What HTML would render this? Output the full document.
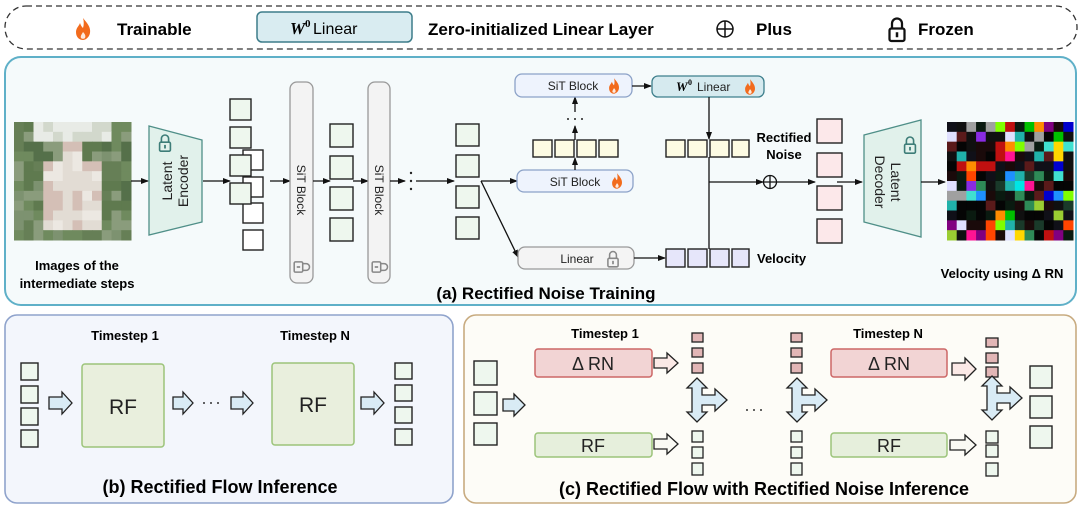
<!DOCTYPE html>
<html><head><meta charset="utf-8"><style>
html,body{margin:0;padding:0;background:#fff;}
svg{display:block;font-family:"Liberation Sans",Arial,sans-serif;}
</style></head><body>
<svg id="s" width="1082" height="507" viewBox="0 0 1082 507" xmlns="http://www.w3.org/2000/svg">
<defs>
<marker id="ah" markerWidth="8" markerHeight="8" refX="7" refY="4" orient="auto" markerUnits="userSpaceOnUse"><path d="M0,1 L8,4 L0,7 Z" fill="#111"/></marker>
<g id="flame"><path d="M0,-11 C4,-6 8,-2 7,4 C6,9 2,11 0,11 C-3,11 -7,9 -7,3 C-7,-1 -4,-3 -3,-6 C-2,-3 -1,-2 0,-1 C1,-4 1,-8 0,-11 Z" fill="#f26b1d"/><path d="M0,3 C2,5 3,7 2,9 C1,10 -1,10 -2,9 C-3,7 -1,5 0,3 Z" fill="#fff" opacity="0.85"/></g>
<g id="lock"><path d="M-4,-2 V-6 A4,4 0 0 1 4,-6 V-2" fill="none" stroke-width="1.8"/><rect x="-6" y="-2" width="12" height="10" rx="1.5" fill="none" stroke-width="1.8"/><rect x="-1" y="1" width="2" height="4" stroke="none"/></g>
</defs>

<!-- Legend -->
<rect x="5" y="6" width="1072" height="43" rx="21" fill="#fff" stroke="#333" stroke-width="1.3" stroke-dasharray="6,4"/>
<use href="#flame" transform="translate(83,29) scale(1)"/>
<text x="117" y="35" font-size="17" font-weight="bold">Trainable</text>
<rect x="257" y="12" width="155" height="30" rx="5" fill="#d9ecf1" stroke="#3d7d8a" stroke-width="1.5"/>
<text x="290" y="34" font-size="17" font-family="Liberation Serif,serif" font-style="italic" font-weight="bold">W</text>
<text x="305" y="27" font-size="11" font-family="Liberation Serif,serif" font-weight="bold">0</text>
<text x="313" y="34" font-size="16">Linear</text>
<text x="428" y="35" font-size="17" font-weight="bold">Zero-initialized Linear Layer</text>
<circle cx="725" cy="29" r="8" fill="none" stroke="#111" stroke-width="1.5"/><path d="M717,29 H733 M725,21 V37" stroke="#111" stroke-width="1.5"/>
<text x="756" y="35" font-size="17" font-weight="bold">Plus</text>
<g transform="translate(897,31) scale(1.25)" stroke="#111" fill="#111"><use href="#lock"/></g>
<text x="918" y="35" font-size="17" font-weight="bold">Frozen</text>

<!-- Panel a -->
<rect x="5" y="57" width="1071" height="248" rx="16" fill="#f5fafb" stroke="#5fb0c8" stroke-width="2"/>
<g id="img"><rect x="14" y="122" width="117" height="118" fill="#7d8f6c"/></g>
<text x="77" y="270" font-size="13" font-weight="bold" text-anchor="middle">Images of the</text>
<text x="77" y="288" font-size="13" font-weight="bold" text-anchor="middle">intermediate steps</text>
<line x1="131" y1="181" x2="148" y2="181" stroke="#111" stroke-width="1.3" marker-end="url(#ah)"/>
<path d="M149,126 L202,140 L202,222 L149,235 Z" fill="#e1f1eb" stroke="#4f8f88" stroke-width="1.3"/>
<g transform="translate(165,144) scale(0.9)" stroke="#3d7d78" fill="#3d7d78"><use href="#lock"/></g>
<text transform="translate(172,181) rotate(-90)" font-size="14" text-anchor="middle" fill="#222"><tspan x="0" y="0">Latent</tspan><tspan x="0" y="16">Encoder</tspan></text>
<line x1="203" y1="181" x2="230" y2="181" stroke="#111" stroke-width="1.3" marker-end="url(#ah)"/>
<g fill="#fff" stroke="#222" stroke-width="1.4">
<rect x="243" y="150" width="20" height="20"/><rect x="243" y="177" width="20" height="20"/><rect x="243" y="203" width="20" height="20"/><rect x="243" y="230" width="20" height="20"/>
</g>
<g fill="#eef7ee" stroke="#222" stroke-width="1.4">
<rect x="230" y="99" width="21" height="21"/><rect x="230" y="127" width="21" height="21"/><rect x="230" y="155" width="21" height="21"/><rect x="230" y="183" width="21" height="21"/>
</g>
<line x1="270" y1="181" x2="290" y2="181" stroke="#111" stroke-width="1.3" marker-end="url(#ah)"/>
<rect x="290" y="82" width="23" height="201" rx="7" fill="#f3f3f3" stroke="#999" stroke-width="1.3"/>
<text transform="translate(297,190) rotate(90)" font-size="12" text-anchor="middle" fill="#222">SiT Block</text>
<g transform="translate(301,267) rotate(90) scale(0.85)" stroke="#888" fill="#888"><use href="#lock"/></g>
<line x1="313" y1="181" x2="330" y2="181" stroke="#111" stroke-width="1.3" marker-end="url(#ah)"/>
<g fill="#eef7ee" stroke="#222" stroke-width="1.4">
<rect x="330" y="124" width="23" height="23"/><rect x="330" y="156" width="23" height="23"/><rect x="330" y="187" width="23" height="23"/><rect x="330" y="218" width="23" height="23"/>
</g>
<line x1="353" y1="181" x2="368" y2="181" stroke="#111" stroke-width="1.3" marker-end="url(#ah)"/>
<rect x="368" y="82" width="22" height="201" rx="7" fill="#f3f3f3" stroke="#999" stroke-width="1.3"/>
<text transform="translate(375,190) rotate(90)" font-size="12" text-anchor="middle" fill="#222">SiT Block</text>
<g transform="translate(379,267) rotate(90) scale(0.85)" stroke="#888" fill="#888"><use href="#lock"/></g>
<line x1="390" y1="181" x2="405" y2="181" stroke="#111" stroke-width="1.3" marker-end="url(#ah)"/>
<g fill="#222"><circle cx="411" cy="173" r="1.2"/><circle cx="411" cy="181" r="1.2"/><circle cx="411" cy="189" r="1.2"/></g>
<line x1="416" y1="181" x2="454" y2="181" stroke="#111" stroke-width="1.3" marker-end="url(#ah)"/>
<g fill="#eef7ee" stroke="#222" stroke-width="1.4">
<rect x="456" y="124" width="23" height="22"/><rect x="456" y="155" width="23" height="22"/><rect x="456" y="186" width="23" height="22"/><rect x="456" y="217" width="23" height="22"/>
</g>
<line x1="481" y1="181" x2="517" y2="181" stroke="#111" stroke-width="1.3" marker-end="url(#ah)"/>
<line x1="481" y1="181" x2="518" y2="257" stroke="#111" stroke-width="1.3" marker-end="url(#ah)"/>
<rect x="517" y="170" width="116" height="22" rx="7" fill="#eef3fd" stroke="#8ca2c8" stroke-width="1.3"/>
<text x="575" y="186" font-size="12" text-anchor="middle" fill="#222">SiT Block</text>
<use href="#flame" transform="translate(617,181) scale(0.7)"/>
<g fill="#fdfbe3" stroke="#222" stroke-width="1.4">
<rect x="533" y="140" width="19" height="17"/><rect x="555" y="140" width="19" height="17"/><rect x="577" y="140" width="19" height="17"/><rect x="599" y="140" width="19" height="17"/>
</g>
<line x1="575" y1="170" x2="575" y2="158" stroke="#111" stroke-width="1.3" marker-end="url(#ah)"/>
<line x1="575" y1="140" x2="575" y2="126" stroke="#111" stroke-width="1.3" marker-end="url(#ah)"/>
<g fill="#222"><circle cx="568" cy="119" r="1"/><circle cx="575" cy="119" r="1"/><circle cx="582" cy="119" r="1"/></g>
<line x1="575" y1="112" x2="575" y2="97" stroke="#111" stroke-width="1.3" marker-end="url(#ah)"/>
<rect x="515" y="74" width="117" height="23" rx="7" fill="#eef3fd" stroke="#8ca2c8" stroke-width="1.3"/>
<text x="573" y="90" font-size="12" text-anchor="middle" fill="#222">SiT Block</text>
<use href="#flame" transform="translate(614,86) scale(0.7)"/>
<line x1="632" y1="86" x2="651" y2="86" stroke="#111" stroke-width="1.3" marker-end="url(#ah)"/>
<rect x="652" y="76" width="112" height="21" rx="6" fill="#d6eaef" stroke="#3e7f8c" stroke-width="1.3"/>
<text x="676" y="91" font-size="13" font-family="Liberation Serif,serif" font-style="italic" font-weight="bold">W</text>
<text x="688" y="85" font-size="8" font-family="Liberation Serif,serif" font-weight="bold">0</text>
<text x="697" y="91" font-size="12" fill="#222">Linear</text>
<use href="#flame" transform="translate(750,87) scale(0.7)"/>
<g fill="#fdfbe3" stroke="#222" stroke-width="1.4">
<rect x="666" y="140" width="19" height="17"/><rect x="688" y="140" width="19" height="17"/><rect x="710" y="140" width="19" height="17"/><rect x="732" y="140" width="17" height="17"/>
</g>
<line x1="709" y1="97" x2="709" y2="139" stroke="#111" stroke-width="1.3" marker-end="url(#ah)"/>
<line x1="709" y1="157" x2="709" y2="249" stroke="#111" stroke-width="1.3"/>
<line x1="709" y1="182" x2="763" y2="182" stroke="#111" stroke-width="1.3" marker-end="url(#ah)"/>
<circle cx="770" cy="182" r="6.5" fill="none" stroke="#111" stroke-width="1.3"/><path d="M763.5,182 H776.5 M770,175.5 V188.5" stroke="#111" stroke-width="1.3"/>
<line x1="777" y1="182" x2="815" y2="182" stroke="#111" stroke-width="1.3" marker-end="url(#ah)"/>
<text x="784" y="142" font-size="13" font-weight="bold" text-anchor="middle">Rectified</text>
<text x="784" y="159" font-size="13" font-weight="bold" text-anchor="middle">Noise</text>
<g fill="#fce8ea" stroke="#222" stroke-width="1.4">
<rect x="817" y="119" width="25" height="24"/><rect x="817" y="153" width="25" height="24"/><rect x="817" y="186" width="25" height="24"/><rect x="817" y="219" width="25" height="24"/>
</g>
<line x1="837" y1="182" x2="862" y2="182" stroke="#111" stroke-width="1.3" marker-end="url(#ah)"/>
<path d="M864,135 L921,120 L921,237 L864,222 Z" fill="#e1f1eb" stroke="#4f8f88" stroke-width="1.3"/>
<g transform="translate(910,146) scale(0.9)" stroke="#3d7d78" fill="#3d7d78"><use href="#lock"/></g>
<text transform="translate(891,182) rotate(90)" font-size="14" text-anchor="middle" fill="#222"><tspan x="0" y="0">Latent</tspan><tspan x="0" y="16">Decoder</tspan></text>
<line x1="921" y1="182" x2="945" y2="182" stroke="#111" stroke-width="1.3" marker-end="url(#ah)"/>
<g id="noise"><rect x="947" y="122" width="126" height="118" fill="#1a1a1a"/></g>
<text x="1002" y="278" font-size="13" font-weight="bold" text-anchor="middle">Velocity using  Δ RN</text>
<rect x="518" y="247" width="116" height="22" rx="7" fill="#f4f4f4" stroke="#999" stroke-width="1.3"/>
<text x="577" y="263" font-size="12" text-anchor="middle" fill="#222">Linear</text>
<g transform="translate(613,260) scale(0.85)" stroke="#888" fill="#888"><use href="#lock"/></g>
<line x1="634" y1="258" x2="665" y2="258" stroke="#111" stroke-width="1.3" marker-end="url(#ah)"/>
<g fill="#e6e6fa" stroke="#222" stroke-width="1.4">
<rect x="666" y="249" width="19" height="18"/><rect x="688" y="249" width="19" height="18"/><rect x="710" y="249" width="19" height="18"/><rect x="732" y="249" width="17" height="18"/>
</g>
<text x="757" y="263" font-size="13" font-weight="bold">Velocity</text>
<text x="546" y="299" font-size="17" font-weight="bold" text-anchor="middle">(a) Rectified Noise Training</text>

<!-- Panel b -->
<rect x="5" y="315" width="448" height="188" rx="12" fill="#f3f6fc" stroke="#8fa3cc" stroke-width="1.6"/>
<text x="125" y="340" font-size="13" font-weight="bold" text-anchor="middle">Timestep 1</text>
<text x="315" y="340" font-size="13" font-weight="bold" text-anchor="middle">Timestep N</text>
<g fill="#eef7ee" stroke="#222" stroke-width="1.4">
<rect x="21" y="363" width="17" height="17"/><rect x="21" y="386" width="17" height="17"/><rect x="21" y="408" width="17" height="17"/><rect x="21" y="430" width="17" height="17"/>
<rect x="395" y="363" width="17" height="16"/><rect x="395" y="385" width="17" height="16"/><rect x="395" y="407" width="17" height="16"/><rect x="395" y="429" width="17" height="16"/>
</g>
<g fill="#d9ebf5" stroke="#222" stroke-width="1.3">
<path d="M49,397 H62 V392 L72,403 L62,414 V409 H49 Z"/>
<path d="M173,397 H183 V392 L193,403 L183,414 V409 H173 Z"/>
<path d="M231,397 H243 V392 L253,403 L243,414 V409 H231 Z"/>
<path d="M361,397 H374 V392 L384,403 L374,414 V409 H361 Z"/>
</g>
<rect x="82" y="364" width="82" height="83" rx="3" fill="#e9efdd" stroke="#9cc47a" stroke-width="1.5"/>
<text x="123" y="414" font-size="21" text-anchor="middle" fill="#222">RF</text>
<rect x="272" y="363" width="82" height="82" rx="3" fill="#e9efdd" stroke="#9cc47a" stroke-width="1.5"/>
<text x="313" y="412" font-size="21" text-anchor="middle" fill="#222">RF</text>
<g fill="#333"><circle cx="204" cy="403" r="1"/><circle cx="211" cy="403" r="1"/><circle cx="218" cy="403" r="1"/></g>
<text x="220" y="493" font-size="18" font-weight="bold" text-anchor="middle">(b) Rectified Flow Inference</text>

<!-- Panel c -->
<rect x="464" y="315" width="612" height="188" rx="12" fill="#fdfcf7" stroke="#c8ab80" stroke-width="1.6"/>
<text x="605" y="338" font-size="13" font-weight="bold" text-anchor="middle">Timestep 1</text>
<text x="888" y="338" font-size="13" font-weight="bold" text-anchor="middle">Timestep N</text>
<g fill="#eef7ee" stroke="#222" stroke-width="1.4">
<rect x="474" y="361" width="23" height="24"/><rect x="474" y="392" width="23" height="23"/><rect x="474" y="423" width="23" height="22"/>
<rect x="1030" y="366" width="22" height="22"/><rect x="1030" y="396" width="22" height="22"/><rect x="1030" y="426" width="22" height="22"/>
</g>
<path d="M503,399 H514 V394 L525,405 L514,416 V411 H503 Z" fill="#d9ebf5" stroke="#222" stroke-width="1.3"/>
<rect x="535" y="349" width="117" height="28" rx="3" fill="#f2d4d4" stroke="#cc6666" stroke-width="1.5"/>
<text x="593" y="370" font-size="18" text-anchor="middle" fill="#222">Δ RN</text>
<rect x="831" y="349" width="116" height="28" rx="3" fill="#f2d4d4" stroke="#cc6666" stroke-width="1.5"/>
<text x="889" y="370" font-size="18" text-anchor="middle" fill="#222">Δ RN</text>
<rect x="535" y="433" width="117" height="24" rx="3" fill="#e6efdc" stroke="#9cc47a" stroke-width="1.5"/>
<text x="593" y="452" font-size="18" text-anchor="middle" fill="#222">RF</text>
<rect x="831" y="433" width="116" height="24" rx="3" fill="#e6efdc" stroke="#9cc47a" stroke-width="1.5"/>
<text x="889" y="452" font-size="18" text-anchor="middle" fill="#222">RF</text>
<g fill="#fbe9e6" stroke="#222" stroke-width="1.3">
<path d="M654,358 H667 V353 L678,363 L667,373 V368 H654 Z"/>
<path d="M952,363 H965 V358 L976,369 L965,380 V375 H952 Z"/>
</g>
<g fill="#fafaf4" stroke="#222" stroke-width="1.3">
<path d="M654,439 H667 V434 L678,444 L667,454 V449 H654 Z"/>
<path d="M950,440 H965 V435 L976,445 L965,455 V450 H950 Z"/>
</g>
<g fill="#e2b6b6" stroke="#222" stroke-width="1.3">
<rect x="692" y="333" width="11" height="9"/><rect x="692" y="348" width="11" height="9"/><rect x="692" y="363" width="11" height="10"/>
<rect x="791" y="333" width="11" height="9"/><rect x="791" y="348" width="11" height="9"/><rect x="791" y="363" width="11" height="10"/>
<rect x="986" y="338" width="12" height="9"/><rect x="986" y="353" width="12" height="10"/><rect x="986" y="367" width="12" height="10"/>
</g>
<g fill="#eef7ee" stroke="#222" stroke-width="1.3">
<rect x="692" y="431" width="11" height="11"/><rect x="692" y="447" width="11" height="11"/><rect x="692" y="463" width="11" height="12"/>
<rect x="791" y="431" width="11" height="11"/><rect x="791" y="447" width="11" height="11"/><rect x="791" y="463" width="11" height="12"/>
<rect x="986" y="431" width="12" height="12"/><rect x="986" y="445" width="12" height="12"/><rect x="986" y="463" width="12" height="13"/>
</g>
<g fill="#d9ebf5" stroke="#222" stroke-width="1.3">
<path transform="translate(697,400)" d="M0,-22 L10,-12 L5,-12 L5,-5 L18,-5 L18,-11 L30,0 L18,11 L18,5 L5,5 L5,12 L10,12 L0,22 L-10,12 L-5,12 L-5,-12 L-10,-12 Z"/>
<path transform="translate(797,400)" d="M0,-22 L10,-12 L5,-12 L5,-5 L18,-5 L18,-11 L30,0 L18,11 L18,5 L5,5 L5,12 L10,12 L0,22 L-10,12 L-5,12 L-5,-12 L-10,-12 Z"/>
<path transform="translate(992,398)" d="M0,-22 L10,-12 L5,-12 L5,-5 L18,-5 L18,-11 L30,0 L18,11 L18,5 L5,5 L5,12 L10,12 L0,22 L-10,12 L-5,12 L-5,-12 L-10,-12 Z"/>
</g>
<g fill="#333"><circle cx="747" cy="410" r="1"/><circle cx="754" cy="410" r="1"/><circle cx="761" cy="410" r="1"/></g>
<text x="764" y="495" font-size="18" font-weight="bold" text-anchor="middle">(c) Rectified Flow with Rectified Noise Inference</text>
</svg>
<script>
(function(){
var NS="http://www.w3.org/2000/svg";var seed=7;function r(){seed=(seed*16807)%2147483647;return (seed-1)/2147483646;}
function rect(g,x,y,w,h,c){var e=document.createElementNS(NS,"rect");e.setAttribute("x",x);e.setAttribute("y",y);e.setAttribute("width",w+0.5);e.setAttribute("height",h+0.5);e.setAttribute("fill",c);g.appendChild(e);}
var n=document.getElementById("noise");var pal=["#1e90ff","#00c000","#ff1493","#00e5e5","#c01010","#ffd700","#8a2be2","#40e0d0","#2e8b57","#ff8c00","#a0a0a0","#e0e0ff","#7fff00","#0000cd","#ff4500","#9acd32","#800080","#20b2aa","#5a1a1a","#1a3a2a"];
var cw=126/13,ch=118/12;for(var i=0;i<12;i++)for(var j=0;j<13;j++){var c=r()<0.55?["#050505","#101010","#1a0a0a","#0a1a10","#101018"][Math.floor(r()*5)]:pal[Math.floor(r()*pal.length)];rect(n,947+j*cw,122+i*ch,cw,ch,c);}
var g=document.getElementById("img");var N=12,w=117/N,h=118/N;
for(var i=0;i<N;i++)for(var j=0;j<N;j++){var x=(j+0.5)/N-0.5,y=(i+0.5)/N;var c;
var fig=(Math.abs(x)<0.22&&y>0.3&&y<0.95)||(Math.abs(x)<0.12&&y>0.15&&y<0.35);var top=(y<0.18&&Math.abs(x)<0.3);
var v=r();if(fig){c=v<0.5?"#e2dcd4":(v<0.8?"#d4bfb6":"#ece8e2");}else if(top){c=v<0.5?"#e8ebe6":"#d2d8cc";}else{var k=["#5f7a4f","#6f8a5e","#7d9270","#55704a","#8a9c7c","#667f56"];c=k[Math.floor(v*k.length)];}
rect(g,14+j*w,122+i*h,w,h,c);}
})();
</script>
</body></html>
